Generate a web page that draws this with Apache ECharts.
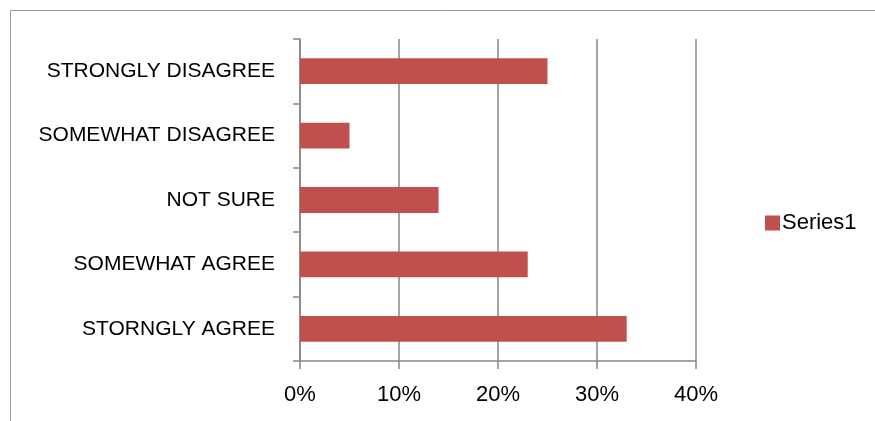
<!DOCTYPE html>
<html>
<head>
<meta charset="utf-8">
<script src="https://cdn.jsdelivr.net/npm/echarts@6/dist/echarts.min.js"></script>
<style>html,body{margin:0;padding:0;background:#fff;}#c{width:875px;height:421px;}</style>
</head>
<body>
<div id="c"></div>
<script>
var categories = ['STORNGLY AGREE', 'SOMEWHAT AGREE', 'NOT SURE', 'SOMEWHAT DISAGREE', 'STRONGLY DISAGREE'];
var values = [33, 23, 14, 5, 25];
var seriesName = 'Series1';
var xTicks = [0, 10, 20, 30, 40];

var chart = echarts.init(document.getElementById('c'), null, {renderer: 'canvas'});
var font = 'Liberation Sans';
chart.setOption({
  animation: false,
  backgroundColor: '#fff',
  graphic: [{
    type: 'rect',
    shape: {x: 10.5, y: 10.5, width: 1000, height: 1000},
    style: {fill: 'none', stroke: '#9a9a9a', lineWidth: 1},
    silent: true, z: -10
  }],
  grid: {left: 300, right: 179, top: 39, bottom: 60, containLabel: false},
  legend: {
    data: [seriesName],
    left: 760, top: 207,
    orient: 'vertical',
    itemWidth: 15, itemHeight: 15, itemGap: 6,
    icon: 'rect',
    textStyle: {fontFamily: font, fontSize: 22, color: '#000', padding: [0, 0, 0, -3]}
  },
  xAxis: {
    type: 'value',
    min: 0, max: 40, interval: 10,
    axisLine: {show: true, lineStyle: {color: '#868686', width: 1.5}},
    axisTick: {show: true, length: 8, lineStyle: {color: '#868686', width: 1.5}},
    splitLine: {show: true, lineStyle: {color: '#868686', width: 1.5}},
    axisLabel: {formatter: '{value}%', fontFamily: font, fontSize: 22, color: '#000', margin: 23}
  },
  yAxis: {
    type: 'category',
    data: categories,
    axisLine: {show: true, lineStyle: {color: '#868686', width: 1.5}},
    axisTick: {show: true, length: 7, lineStyle: {color: '#868686', width: 1.5}},
    splitLine: {show: false},
    axisLabel: {fontFamily: font, fontSize: 21, color: '#000', margin: 25}
  },
  series: [{
    name: seriesName,
    type: 'bar',
    data: values,
    barWidth: '40%',
    itemStyle: {color: '#C0504D'}
  }]
});
</script>
</body>
</html>
